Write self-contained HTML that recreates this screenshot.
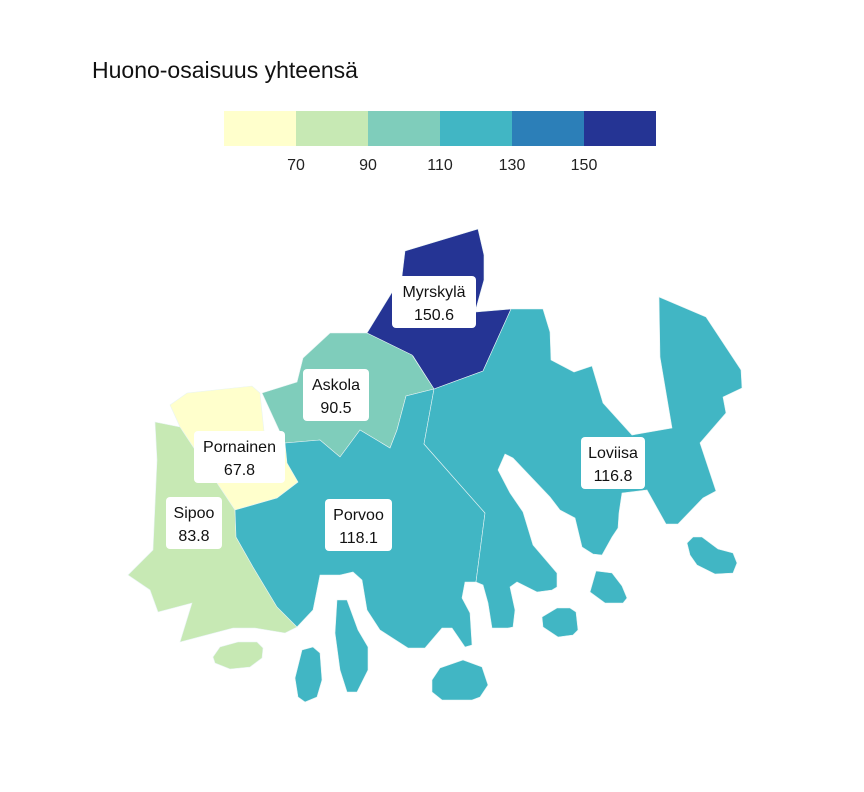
<!DOCTYPE html>
<html><head><meta charset="utf-8"><style>
html,body{margin:0;padding:0;background:#fff;}
svg{display:block;font-family:"Liberation Sans",sans-serif;}
</style></head><body>
<svg id="chart" width="864" height="792" viewBox="0 0 864 792">
<text x="92" y="78" font-size="23" fill="#111">Huono-osaisuus yhteensä</text>
<g id="legend"></g>
<g id="regions"></g>
<g id="labels"></g>
</svg>
<script>
const names = ["Myrskylä","Askola","Pornainen","Sipoo","Porvoo","Loviisa"];
const values = [150.6, 90.5, 67.8, 83.8, 118.1, 116.8];
const breaks = [70, 90, 110, 130, 150];
const binColors = ["#ffffcc","#c7e9b4","#7fcdbb","#41b6c4","#2c7fb8","#253494"];

const shapes = {
 "Myrskylä":[[[405,251],[478,229],[484,255],[484,280],[475,312],[511,309],[483,371],[434,389],[413,356],[367,333],[402,276]]],
 "Askola":[[[330,333],[367,333],[412,355],[434,389],[406,396],[397,430],[390,448],[360,430],[340,457],[320,440],[285,443],[262,393],[297,382],[303,358]]],
 "Pornainen":[[[170,405],[187,393],[252,386],[260,393],[264,431],[285,443],[287,463],[298,482],[277,498],[235,510],[217,483],[180,427]]],
 "Sipoo":[[[155,422],[180,427],[217,483],[235,510],[236,537],[253,567],[277,607],[297,627],[285,633],[255,628],[233,628],[180,642],[192,603],[158,612],[150,590],[128,575],[153,550],[157,460]],
   [[213,657],[220,647],[238,642],[257,642],[263,648],[262,658],[250,667],[230,669],[215,663]]],
 "Porvoo":[[[277,498],[298,482],[287,463],[285,443],[320,440],[340,457],[360,430],[390,448],[397,430],[406,396],[434,389],[424,444],[485,513],[476,582],[465,582],[462,598],[470,613],[472,645],[465,647],[452,628],[442,628],[425,648],[408,648],[380,630],[367,610],[362,580],[353,572],[340,575],[320,575],[313,610],[297,627],[277,607],[253,567],[236,537],[235,510]],
   [[302,650],[313,647],[320,653],[322,680],[317,697],[305,702],[298,697],[295,678]],
   [[337,600],[347,600],[358,630],[368,647],[368,670],[357,692],[347,692],[340,670],[335,633]],
   [[432,680],[440,668],[463,660],[482,667],[488,685],[480,697],[472,700],[442,700],[432,692]]],
 "Loviisa":[[[434,389],[483,371],[511,309],[543,309],[550,332],[551,360],[574,372],[592,366],[603,403],[632,435],[672,428],[660,357],[659,297],[706,317],[741,370],[742,388],[723,397],[726,413],[700,443],[716,491],[703,498],[678,524],[666,524],[647,490],[622,493],[619,513],[618,528],[612,537],[602,555],[593,554],[582,547],[575,518],[560,510],[550,497],[513,458],[505,454],[498,470],[510,493],[523,512],[533,545],[557,573],[557,587],[552,590],[537,592],[517,582],[510,587],[515,610],[513,627],[508,628],[492,628],[488,603],[483,585],[476,582],[485,513],[424,444]],
   [[590,592],[596,571],[612,573],[622,586],[627,598],[623,603],[605,603]],
   [[542,617],[557,608],[570,608],[576,612],[578,630],[573,635],[558,637],[543,627]],
   [[687,543],[693,537],[702,537],[718,549],[733,553],[737,563],[733,573],[715,574],[697,565],[690,555]]]
};
const labelBoxes = {
 "Myrskylä":[392,276,84,52],"Askola":[303,369,66,52],"Pornainen":[194,431,91,52],
 "Sipoo":[166,497,56,52],"Porvoo":[325,499,67,52],"Loviisa":[581,437,64,52]
};
const NS="http://www.w3.org/2000/svg";
function colorFor(v){let i=0;while(i<breaks.length&&v>=breaks[i])i++;return binColors[i];}
function slug(s){return s.toLowerCase().replace(/ä/g,'a').replace(/ö/g,'o');}

const lg=document.getElementById('legend');
const lx0=224, lw=72, ly=111, lh=35;
binColors.forEach((c,i)=>{
 const r=document.createElementNS(NS,'rect');
 r.setAttribute('x',lx0+i*lw);r.setAttribute('y',ly);r.setAttribute('width',lw);r.setAttribute('height',lh);r.setAttribute('fill',c);
 
 
 lg.appendChild(r);
});
breaks.forEach((b,i)=>{
 const t=document.createElementNS(NS,'text');
 t.setAttribute('x',lx0+(i+1)*lw);t.setAttribute('y',170);t.setAttribute('text-anchor','middle');t.setAttribute('font-size','16');t.setAttribute('fill','#222');
 t.textContent=b;
 
 
 lg.appendChild(t);
});

const rg=document.getElementById('regions');
names.forEach((n,i)=>{
 const g=document.createElementNS(NS,'g');
 
 
 shapes[n].forEach(poly=>{
  const p=document.createElementNS(NS,'polygon');
  p.setAttribute('points',poly.map(q=>q.join(',')).join(' '));
  p.setAttribute('fill',colorFor(values[i]));p.setAttribute('stroke','#e8f4f4');p.setAttribute('stroke-width','0.6');
  g.appendChild(p);
 });
 rg.appendChild(g);
});

const lb=document.getElementById('labels');
names.forEach((n,i)=>{
 const b=labelBoxes[n];
 const g=document.createElementNS(NS,'g');
 
 
 const r=document.createElementNS(NS,'rect');
 r.setAttribute('x',b[0]);r.setAttribute('y',b[1]);r.setAttribute('width',b[2]);r.setAttribute('height',b[3]);r.setAttribute('rx',4);r.setAttribute('fill','#fff');
 g.appendChild(r);
 const cx=b[0]+b[2]/2;
 [[n,b[1]+21],[values[i].toFixed(1),b[1]+44]].forEach(([s,y])=>{
  const t=document.createElementNS(NS,'text');
  t.setAttribute('x',cx);t.setAttribute('y',y);t.setAttribute('text-anchor','middle');t.setAttribute('font-size','16');t.setAttribute('fill','#111');
  t.textContent=s;g.appendChild(t);
 });
 lb.appendChild(g);
});
</script>
</body></html>
